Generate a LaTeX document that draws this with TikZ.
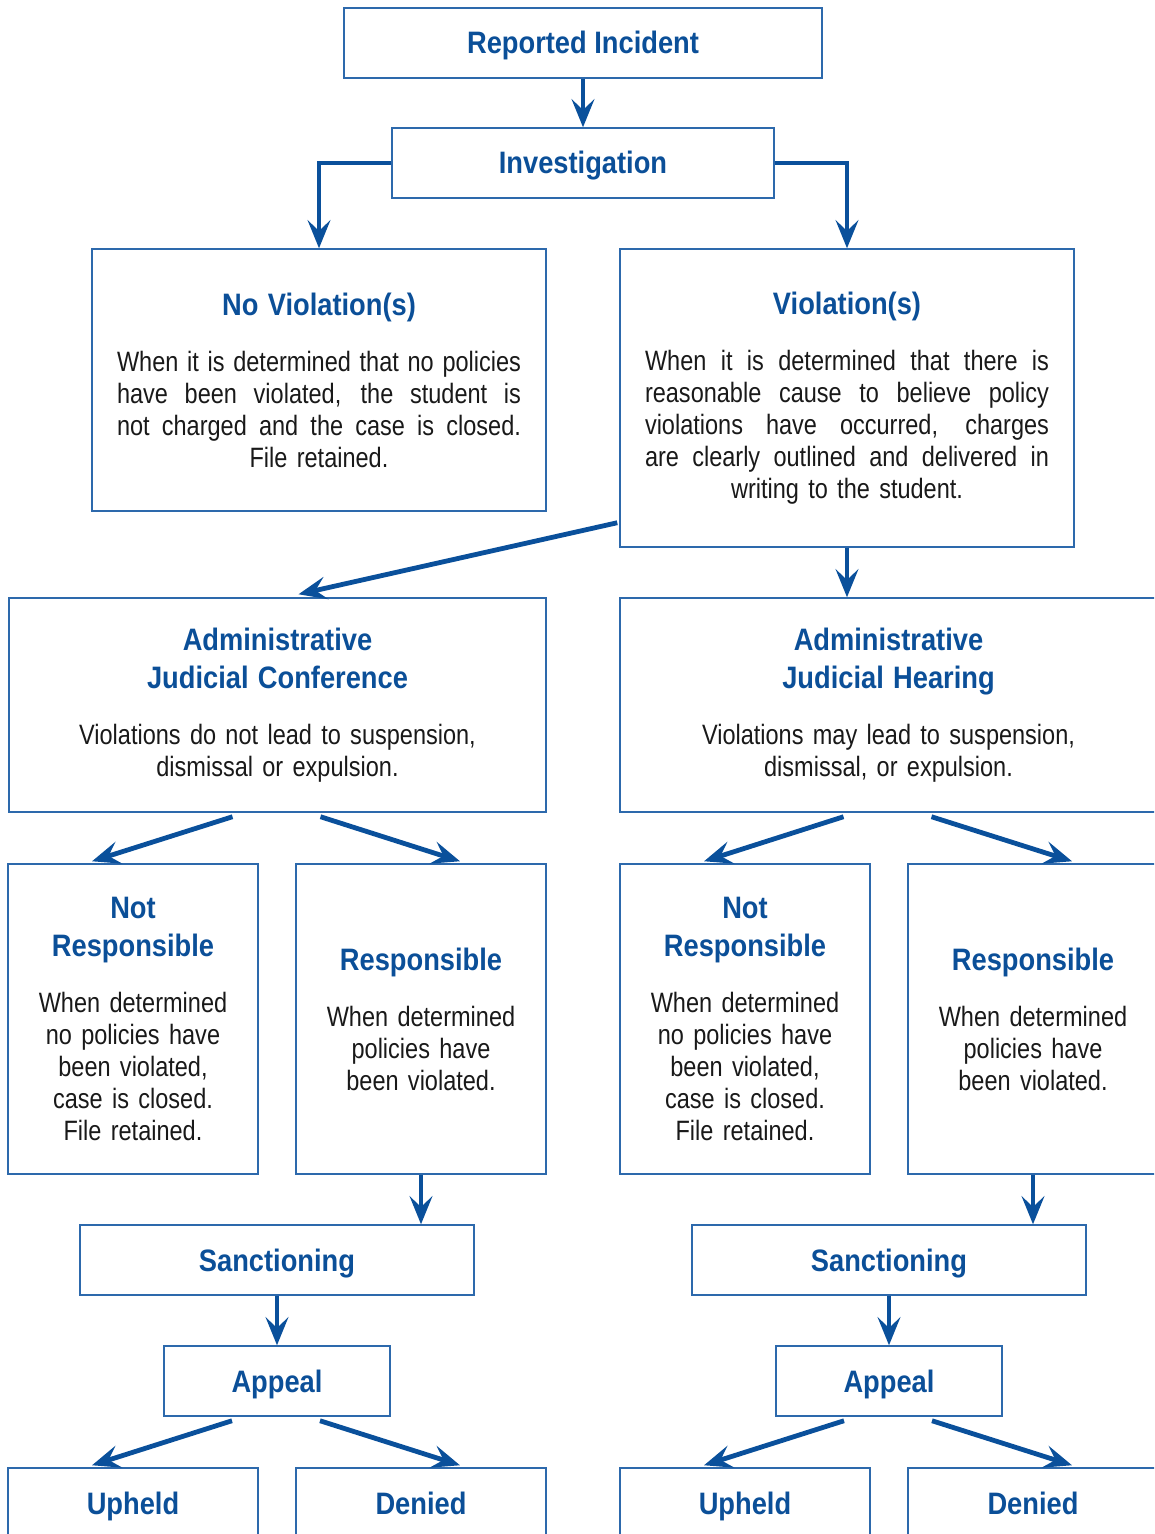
\documentclass[tikz,border=0pt]{standalone}
\usepackage{fontspec}
\setmainfont{Liberation Sans}[FakeStretch=0.84, BoldFeatures={FakeStretch=0.88}]
\usetikzlibrary{arrows.meta,calc}
\definecolor{hdblue}{RGB}{11,79,152}
\definecolor{lnblue}{RGB}{10,80,155}
\definecolor{bxblue}{RGB}{45,105,172}
\def\bodyfont{\fontsize{21}{24}\selectfont\spaceskip=0.22em plus 0.08em minus 0.04em\relax}
\def\hdfont{\fontsize{23.25}{28.5}\selectfont\bfseries}
\def\hd#1{{\hdfont\color{hdblue}#1\par}\vspace{18pt}}
\def\jl#1{{\spaceskip=0.22em plus 1fil minus 0.04em\makebox[\hsize][s]{#1}}}
\tikzset{
	bx/.style 2 args={draw=bxblue, line width=1.1pt, inner sep=0pt, minimum width=#1*0.75pt, minimum height=#2*0.75pt},
	hdbx/.style={font=\hdfont, text=hdblue, text height=21.5pt, text depth=5pt},
	txbx/.style={font=\bodyfont, text=black!90, align=center, text width=#1},
	arr/.style={draw=lnblue, line width=3.6pt, -{Stealth[length=21pt,width=17pt,inset=8pt]}},
}

\begin{document}
\begin{tikzpicture}[x=0.75pt, y=-0.75pt]
			%%%%% START %%%%%
			\useasboundingbox (0, 0) rectangle (1154, 1534);
			\clip (0, 0) rectangle (1154, 1534);
			
			\node[bx={478}{70}, hdbx] (rep) at (583, 43) {Reported Incident};
			\node[bx={382}{70}, hdbx] (inv) at (583, 163) {Investigation};
			
			\node[bx={454}{262}, txbx=303pt] (nov) at (319, 380) {\hd{No Violation(s)}\jl{When it is determined that no policies}\\\jl{have been violated, the student is}\\\jl{not charged and the case is closed.}\\File retained.};
			\node[bx={454}{298}, txbx=303pt] (vio) at (847, 398) {\hd{Violation(s)}\jl{When it is determined that there is}\\\jl{reasonable cause to believe policy}\\\jl{violations have occurred, charges}\\\jl{are clearly outlined and delivered in}\\writing to the student.};
			
			\node[bx={537}{214}, txbx=360pt] (conf) at (277.5, 705) {\hd{Administrative\\Judicial Conference}Violations do not lead to suspension,\\dismissal or expulsion.};
			\node[bx={537}{214}, txbx=360pt] (hear) at (888.5, 705) {\hd{Administrative\\Judicial Hearing}Violations may lead to suspension,\\dismissal, or expulsion.};
			
			\node[bx={250}{310}, txbx=165pt] (nrl) at (133, 1019) {\hd{Not\\Responsible}When determined\\no policies have\\been violated,\\case is closed.\\File retained.};
			\node[bx={250}{310}, txbx=165pt] (resl) at (421, 1019) {\hd{Responsible}When determined\\policies have\\been violated.};
			\node[bx={250}{310}, txbx=165pt] (nrr) at (745, 1019) {\hd{Not\\Responsible}When determined\\no policies have\\been violated,\\case is closed.\\File retained.};
			\node[bx={250}{310}, txbx=165pt] (resr) at (1033, 1019) {\hd{Responsible}When determined\\policies have\\been violated.};
			
			\node[bx={394}{70}, hdbx] (sanl) at (277, 1260) {Sanctioning};
			\node[bx={394}{70}, hdbx] (sanr) at (889, 1260) {Sanctioning};
			\node[bx={226}{70}, hdbx] (appl) at (277, 1381) {Appeal};
			\node[bx={226}{70}, hdbx] (appr) at (889, 1381) {Appeal};
			
			\node[bx={250}{70}, hdbx] (upl) at (133, 1503) {Upheld};
			\node[bx={250}{70}, hdbx] (denl) at (421, 1503) {Denied};
			\node[bx={250}{70}, hdbx] (upr) at (745, 1503) {Upheld};
			\node[bx={250}{70}, hdbx] (denr) at (1033, 1503) {Denied};
			
			\draw[arr] (rep) -- (inv);
			\draw[arr] (inv.west) -| (nov.north);
			\draw[arr] (inv.east) -| (vio.north);
			\draw[arr] ($(vio.south west)+(-2, -25)$) -- ($(conf.north)+(21, -3)$);
			\draw[arr] (vio.south) -- (vio.south |- hear.north);
			
			\draw[arr] ($(conf.south)+(-45, 4)$) -- ($(nrl.north)+(-41, -2)$);
			\draw[arr] ($(conf.south)+(43, 4)$) -- ($(resl.north)+(39, -2)$);
			\draw[arr] ($(hear.south)+(-45, 4)$) -- ($(nrr.north)+(-41, -2)$);
			\draw[arr] ($(hear.south)+(43, 4)$) -- ($(resr.north)+(39, -2)$);
			
			\draw[arr] (resl.south) -- (resl.south |- sanl.north);
			\draw[arr] (resr.south) -- (resr.south |- sanr.north);
			\draw[arr] (sanl) -- (appl);
			\draw[arr] (sanr) -- (appr);
			
			\draw[arr] ($(appl.south)+(-45, 4)$) -- ($(upl.north)+(-41, -2)$);
			\draw[arr] ($(appl.south)+(43, 4)$) -- ($(denl.north)+(39, -2)$);
			\draw[arr] ($(appr.south)+(-45, 4)$) -- ($(upr.north)+(-41, -2)$);
			\draw[arr] ($(appr.south)+(43, 4)$) -- ($(denr.north)+(39, -2)$);
			
			%%%%% END %%%%%
\end{tikzpicture}
\end{document}
